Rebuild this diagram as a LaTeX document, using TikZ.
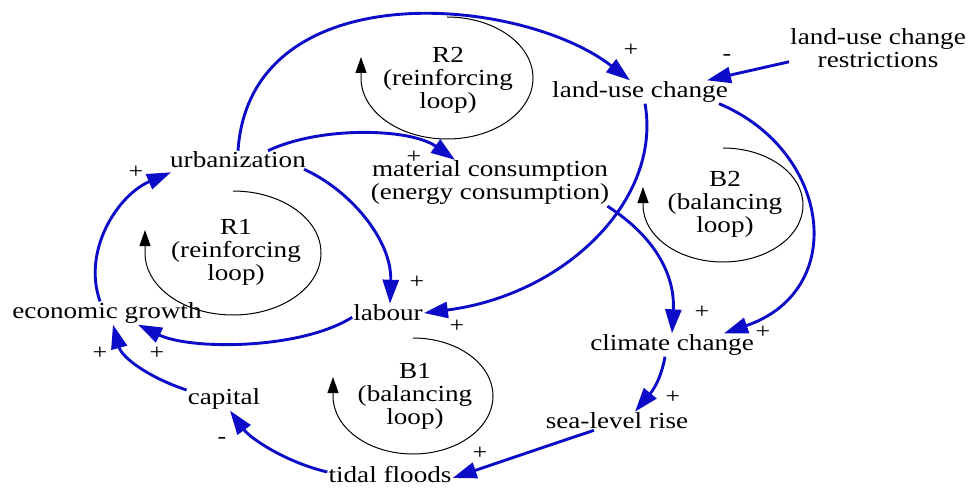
\documentclass[tikz,border=0pt]{standalone}
\usepackage{fontspec}
\setmainfont{Liberation Serif}[FakeStretch=1.18]
\usetikzlibrary{arrows.meta}
\definecolor{linkblue}{RGB}{12,12,200}
\begin{document}
\begin{tikzpicture}[x=1pt,y=-1pt,
  var/.style={font=\fontsize{23}{23}\selectfont, align=center, inner sep=1pt},
  looplabel/.style={font=\fontsize{23}{23}\selectfont, align=center, inner sep=0pt},
  sign/.style={font=\fontsize{22}{22}\selectfont, inner sep=0pt},
  link/.style={draw=linkblue, line width=2.9pt, -{Triangle[length=24pt,width=16pt]}},
  loopmark/.style={draw=black, line width=1pt, -{Triangle[length=16pt,width=11pt]}}
]
\useasboundingbox (0,0) rectangle (973,489);

% variables
\node[var] (urb)  at (238,160) {urbanization};
\node[var] (mat)  at (490,183) {material consumption\\(energy consumption)};
\node[var] (luc)  at (640,92)  {land-use change};
\node[var] (res)  at (878,48)  {land-use change\\restrictions};
\node[var] (econ) at (107,313) {economic growth};
\node[var] (lab)  at (388,313) {labour};
\node[var] (clim) at (672,345) {climate change};
\node[var] (sea)  at (617,421) {sea-level rise};
\node[var] (cap)  at (224,399) {capital};
\node[var] (tid)  at (390,475) {tidal floods};

% loop labels
\node[looplabel] (r2) at (448,80)  {R2\\(reinforcing\\loop)};
\node[looplabel] (r1) at (236,252) {R1\\(reinforcing\\loop)};
\node[looplabel] (b1) at (415,396) {B1\\(balancing\\loop)};
\node[looplabel] (b2) at (725,204) {B2\\(balancing\\loop)};

% loop direction markers: clockwise arc ending in an upward arrow
\coordinate (r2c) at (447,78);
\coordinate (r1c) at (233,253);
\coordinate (b1c) at (413,396);
\coordinate (b2c) at (723,205);
\draw[loopmark] (r2c) ++(270:86 and 61) arc[start angle=270, end angle=540, x radius=86, y radius=61] -- ++(0,-21);
\draw[loopmark] (r1c) ++(270:88 and 62) arc[start angle=270, end angle=540, x radius=88, y radius=62] -- ++(0,-23);
\draw[loopmark] (b1c) ++(270:80 and 58) arc[start angle=270, end angle=540, x radius=80, y radius=58] -- ++(0,-19);
\draw[loopmark] (b2c) ++(270:80 and 57) arc[start angle=270, end angle=540, x radius=80, y radius=57] -- ++(0,-18);

% causal links (xshift/yshift act on the page: positive yshift is upward)
\draw[link] ([xshift=-7pt]econ.north) .. controls (82,250) and (118,195) .. ([xshift=2pt,yshift=-3pt]urb.south west);
\draw[link] (urb.north) .. controls (250,-28) and (520,-5) .. ([xshift=-10pt]luc.north);
\draw[link] ([xshift=30pt]urb.north) .. controls (320,126) and (410,128) .. ([xshift=-35pt]mat.north);
\draw[link] ([xshift=-3pt]urb.south east) .. controls (350,190) and (392,240) .. ([xshift=2pt]lab.north);
\draw[link] ([yshift=5pt]lab.south west) .. controls (300,350) and (190,350) .. ([xshift=31pt]econ.south);
\draw[link] ([xshift=5pt]luc.south) .. controls (662,200) and (565,295) .. (lab.east);
\draw[link] ([yshift=7pt]res.south west) -- ([xshift=-22pt]luc.north east);
\draw[link] ([xshift=-10pt]luc.south east) .. controls (830,150) and (850,290) .. ([xshift=52pt]clim.north);
\draw[link] ([xshift=-3pt]mat.south east) .. controls (660,240) and (675,280) .. (clim.north);
\draw[link] ([xshift=-7pt]clim.south) .. controls (660,385) and (648,396) .. ([xshift=18pt]sea.north);
\draw[link] ([xshift=-23pt]sea.south) .. controls (550,445) and (500,462) .. ([yshift=-3pt]tid.east);
\draw[link] ([yshift=3pt]tid.west) .. controls (285,462) and (250,438) .. ([xshift=6pt]cap.south);
\draw[link] ([yshift=9pt]cap.west) .. controls (150,378) and (122,358) .. ([xshift=6pt]econ.south);

% polarities
\node[sign] (s1)  at (136,172) {+};
\node[sign] (s2)  at (414,157) {+};
\node[sign] (s3)  at (631,50)  {+};
\node[sign] (s4)  at (727,57)  {-};
\node[sign] (s5)  at (417,282) {+};
\node[sign] (s6)  at (457,326) {+};
\node[sign] (s7)  at (157,353) {+};
\node[sign] (s8)  at (100,353) {+};
\node[sign] (s9)  at (702,312) {+};
\node[sign] (s10) at (763,332) {+};
\node[sign] (s11) at (673,397) {+};
\node[sign] (s12) at (480,453) {+};
\node[sign] (s13) at (222,440) {-};
\end{tikzpicture}
\end{document}
